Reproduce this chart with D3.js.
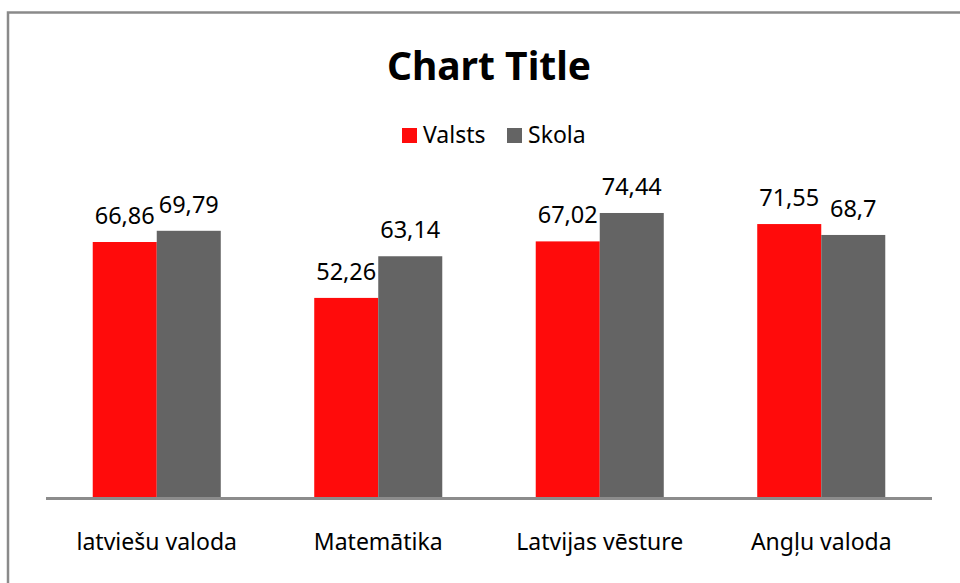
<!DOCTYPE html>
<html>
<head>
<meta charset="utf-8">
<script src="https://cdn.jsdelivr.net/npm/d3@7"></script>
<style>
  body { margin: 0; background: #fff; }
  svg { display: block; font-family: "Noto Sans", "Open Sans", sans-serif; }
</style>
</head>
<body>
<svg id="chart" width="960" height="583"></svg>
<script>
// data
var categories = ['latviešu valoda', 'Matemātika', 'Latvijas vēsture', 'Angļu valoda'];
var seriesNames = ['Valsts', 'Skola'];
var valsts = [66.86, 52.26, 67.02, 71.55];
var skola = [69.79, 63.14, 74.44, 68.7];
var valueLabels = [['66,86', '69,79'], ['52,26', '63,14'], ['67,02', '74,44'], ['71,55', '68,7']];

var colors = { 'Valsts': '#ff0b0b', 'Skola': '#646464' };

var svg = d3.select('#chart'),
    width = 960, height = 583;

// outer frame (right / bottom edges fall off the picture)
svg.append('rect')
   .attr('x', 8).attr('y', 12.5)
   .attr('width', 1000).attr('height', 1000)
   .attr('fill', 'none')
   .attr('stroke', '#8a8a8a')
   .attr('stroke-width', 2.5);

let x0 = d3.scaleBand().domain(categories).range([46, 932]).paddingInner(0),
    x1 = d3.scaleBand().domain(seriesNames).range([0, x0.bandwidth()]).paddingInner(0).paddingOuter(0.73),
    y = d3.scaleLinear().domain([0, 80]).range([498, 191.7]);

let rows = categories.map((c, i) => ({
  cat: c,
  vals: [
    { s: 'Valsts', v: valsts[i], lab: valueLabels[i][0] },
    { s: 'Skola', v: skola[i], lab: valueLabels[i][1] }
  ]
}));

// title
svg.append('text')
   .attr('x', 489).attr('y', 80)
   .attr('text-anchor', 'middle')
   .attr('font-size', 39)
   .attr('font-weight', 'bold')
   .attr('fill', '#000')
   .text('Chart Title');

// legend
let legend = svg.append('g').attr('class', 'legend');
let legX = [402, 507];
seriesNames.forEach((s, i) => {
  legend.append('rect')
        .attr('x', legX[i]).attr('y', 128)
        .attr('width', 15).attr('height', 15)
        .attr('fill', colors[s]);
  legend.append('text')
        .attr('x', legX[i] + 21).attr('y', 143)
        .attr('font-size', 23)
        .attr('fill', '#000')
        .text(s);
});

// bars
let groups = svg.selectAll('g.group')
                .data(rows)
                .enter()
                .append('g')
                .attr('class', 'group')
                .attr('transform', d => 'translate(' + x0(d.cat) + ',0)');

groups.selectAll('rect')
      .data(d => d.vals)
      .enter()
      .append('rect')
      .attr('x', d => x1(d.s))
      .attr('y', d => y(d.v))
      .attr('width', x1.bandwidth())
      .attr('height', d => y(0) - y(d.v))
      .attr('fill', d => colors[d.s]);

groups.selectAll('text.val')
      .data(d => d.vals)
      .enter()
      .append('text')
      .attr('class', 'val')
      .attr('x', d => x1(d.s) + x1.bandwidth() / 2)
      .attr('y', d => y(d.v) - 18)
      .attr('text-anchor', 'middle')
      .attr('font-size', 23.5)
      .attr('fill', '#000')
      .text(d => d.lab);

// category axis
let xAxis = svg.append('g')
               .attr('transform', 'translate(0,' + y(0) + ')')
               .call(d3.axisBottom(x0).tickSize(0).tickPadding(36));
xAxis.select('.domain')
     .attr('stroke', '#8c8c8c')
     .attr('stroke-width', 3)
     .attr('d', 'M' + x0.range()[0] + ',0.5H' + x0.range()[1]);
xAxis.selectAll('text')
     .attr('font-family', '"Noto Sans", "Open Sans", sans-serif')
     .attr('font-size', 23)
     .attr('fill', '#000');
</script>
</body>
</html>
